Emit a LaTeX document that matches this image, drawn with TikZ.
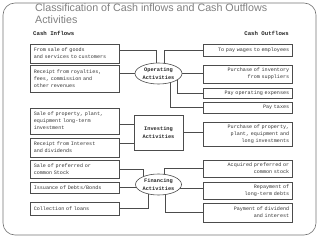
\documentclass[tikz,border=0pt]{standalone}
\usepackage{fontspec}
\setmainfont{Liberation Sans}
\setmonofont{Liberation Mono}
\usetikzlibrary{shapes.geometric,positioning,calc,backgrounds}

\begin{document}
\begin{tikzpicture}[x=1pt,y=-1pt,
    flowline/.style={draw=black!70,line width=.6pt},
    inbox/.style={draw=black!70,line width=.6pt,anchor=west,text width=82pt,inner xsep=3.5pt,inner ysep=0pt,align=left,text=black!80,font=\ttfamily\fontsize{5.1}{7}\selectfont},
    outbox/.style={inbox,anchor=east,align=right},
    actoval/.style={ellipse,draw=black!70,line width=.6pt,fill=white,minimum width=47pt,minimum height=21pt,inner sep=0pt,align=center,text=black!85,font=\ttfamily\bfseries\fontsize{5.3}{8}\selectfont},
    actbox/.style={actoval,rectangle,minimum width=49pt,minimum height=35pt},
    headtext/.style={inner sep=0pt,text=black!85,font=\ttfamily\bfseries\fontsize{5.7}{7}\selectfont}]
      \useasboundingbox (0,0) rectangle (320,240);
      \draw [black!55,line width=.6pt,rounded corners=12pt] (3,3) rectangle (316,235);
      \node [anchor=north west,inner sep=0pt,align=left,text=black!50,font=\fontsize{10.7}{11.5}\selectfont] (title) at (35,4) {Classification of Cash inflows and Cash Outflows\\Activities};
      \node [headtext,anchor=west] (inhead) at (33,33) {Cash Inflows};
      \node [headtext,anchor=east] (outhead) at (289,33) {Cash Outflows};
      % inflows
      \node [inbox,minimum height=19pt] (inc1) at (30,53.5) {From sale of goods\\and services to customers};
      \node [inbox,minimum height=27pt] (inc2) at (30,78.5) {Receipt from royalties,\\fees, commission and\\other revenues};
      \node [inbox,minimum height=26pt] (inc3) at (30,121) {Sale of property, plant,\\equipment long-term\\investment};
      \node [inbox,minimum height=19pt] (inc4) at (30,147.5) {Receipt from Interest\\and dividends};
      \node [inbox,minimum height=18pt] (inc5) at (30,169) {Sale of preferred or\\common Stock};
      \node [inbox,minimum height=11pt] (inc6) at (30,187.5) {Issuance of Debts/Bonds};
      \node [inbox,minimum height=13pt] (inc7) at (30,208.5) {Collection of loans};
      % outflows
      \node [outbox,minimum height=12pt] (out1) at (293,50) {To pay wages to employees};
      \node [outbox,minimum height=18pt] (out2) at (293,74) {Purchase of inventory\\from suppliers};
      \node [outbox,minimum height=10pt] (out3) at (293,93) {Pay operating expenses};
      \node [outbox,minimum height=11pt] (out4) at (293,107.5) {Pay taxes};
      \node [outbox,minimum height=24pt] (out5) at (293,134) {Purchase of property,\\plant, equipment and\\long investments};
      \node [outbox,minimum height=17pt] (out6) at (293,168.5) {Acquired preferred or\\common stock};
      \node [outbox,minimum height=17pt] (out7) at (293,190.5) {Repayment of\\long-term debts};
      \node [outbox,minimum height=19pt] (out8) at (293,212.5) {Payment of dividend\\and interest};
      % activities
      \node [actoval] (oper) at (158.5,73.5) {Operating\\Activities};
      \node [actbox] (inv) at (158.5,132.5) {Investing\\Activities};
      \node [actoval,minimum width=46pt] (fin) at (158.5,184.5) {Financing\\Activities};
      \begin{scope}[on background layer]
        \draw [flowline] ([yshift=3.5pt]inc1.east) -| ([xshift=-2.5pt]oper.center);
        \draw [flowline] (inc2.east |- oper.center) -- (oper.center);
        \draw [flowline] ([xshift=5.5pt]oper.center) |- (out1.west);
        \draw [flowline] (oper.center) -- (oper.center -| out2.west);
        \draw [flowline] ([xshift=18.5pt]oper.center) |- (out3.west);
        \draw [flowline] ([xshift=11.5pt]oper.center) |- (out4.west);
        \draw [flowline] ([yshift=-3pt]inc3.east) -- ([yshift=-3pt]inc3.east -| inv.center);
        \draw [flowline] ([yshift=4.5pt]inc4.east) -- ([yshift=4.5pt]inc4.east -| inv.center);
        \draw [flowline] (inv.center) -- (inv.center -| out5.west);
        \draw [flowline] (inc5.east) -| ([xshift=-15.5pt]fin.center);
        \draw [flowline] (inc6.east) -- (inc6.east -| fin.center);
        \draw [flowline] (inc7.east) -| ([xshift=-10.5pt]fin.center);
        \draw [flowline] ([xshift=5.5pt]fin.center) |- (out6.west);
        \draw [flowline] ([yshift=2.5pt]out7.west) -- ([yshift=2.5pt]out7.west -| fin.center);
        \draw [flowline] ([xshift=6.5pt]fin.center) |- (out8.west);
      \end{scope}
    \end{tikzpicture}
\end{document}
